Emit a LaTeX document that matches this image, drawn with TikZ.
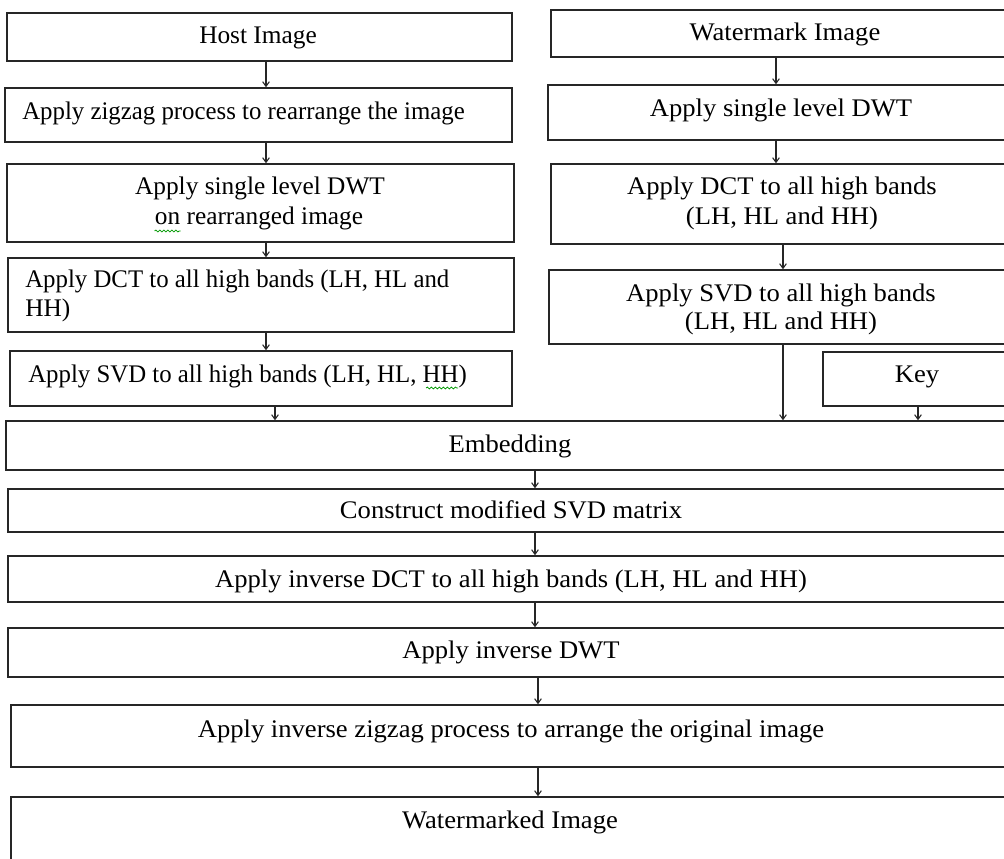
\documentclass[tikz,border=0pt]{standalone}
\usepackage{graphicx}
\usepackage{fontspec}
\setmainfont{Liberation Serif}
\usetikzlibrary{arrows.meta,fit,decorations.pathmorphing}
\newcommand{\wxs}[1]{\scalebox{1.05}[1]{#1}}
\newcommand{\nxs}[1]{\scalebox{0.98}[1]{#1}}
\begin{document}
\begin{tikzpicture}[x=0.75pt,y=-0.75pt,
  box/.style={draw=black!85,line width=1.1pt,inner sep=0pt,fit={#1}},
  lbl/.style={font=\fontsize{19pt}{22pt}\selectfont,inner sep=0pt,anchor=base},
  lbll/.style={lbl,anchor=base west},
  arr/.style={draw=black!85,line width=0.8pt,-{Straight Barb[length=3.5pt,width=5pt]}},
  squig/.style={draw=green!60!black,line width=0.6pt,decorate,decoration={snake,amplitude=0.7pt,segment length=3pt}}]
\useasboundingbox (0,0) rectangle (1004,859);
\clip (0,0) rectangle (1004,859);
\fill[white] (0,0) rectangle (1004,859);
% boxes
\node[box={(7,13) (512,61)}] (host) {};
\node[box={(5,88) (512,142)}] (zig) {};
\node[box={(7,164) (514,242)}] (hdwt) {};
\node[box={(8,258) (514,332)}] (hdct) {};
\node[box={(10,351) (512,406)}] (hsvd) {};
\node[box={(551,10) (1012,57)}] (wm) {};
\node[box={(548,85) (1012,140)}] (wdwt) {};
\node[box={(551,164) (1012,244)}] (wdct) {};
\node[box={(549,270) (1012,344)}] (wsvd) {};
\node[box={(823,352) (1012,406)}] (key) {};
\node[box={(6,421) (1016,470)}] (emb) {};
\node[box={(8,489) (1016,532)}] (cons) {};
\node[box={(8,556) (1016,602)}] (idct) {};
\node[box={(8,628) (1016,677)}] (idwt) {};
\node[box={(11,705) (1016,767)}] (izig) {};
\node[box={(11,797) (1016,880)}] (out) {};
% texts
\node[lbl] (t1) at (258,44) {Host Image};
\node[lbll] (t2) at (22,120) {\nxs{Apply zigzag process to rearrange the image}};
\node[lbl] (t3a) at (260,195) {Apply single level DWT};
\node[lbl] (t3b) at (259,225) {on rearranged image};
\node[lbll] (t4a) at (25,288) {\nxs{Apply DCT to all high bands (LH, HL and}};
\node[lbll] (t4b) at (25,317) {HH)};
\node[lbll] (t5) at (28,383) {\nxs{Apply SVD to all high bands (LH, HL, HH)}};
\node[lbl] (w1) at (785,41) {\wxs{Watermark Image}};
\node[lbl] (w2) at (781,117) {\wxs{Apply single level DWT}};
\node[lbl] (w3a) at (782,195) {\wxs{Apply DCT to all high bands}};
\node[lbl] (w3b) at (782,225) {\wxs{(LH, HL and HH)}};
\node[lbl] (w4a) at (781,302) {\wxs{Apply SVD to all high bands}};
\node[lbl] (w4b) at (781,330) {\wxs{(LH, HL and HH)}};
\node[lbl] (k1) at (917,383) {\wxs{Key}};
\node[lbl] (e1) at (510,453) {\wxs{Embedding}};
\node[lbl] (c1) at (511,518) {\wxs{Construct modified SVD matrix}};
\node[lbl] (d1) at (511,587) {\wxs{Apply inverse DCT to all high bands (LH, HL and HH)}};
\node[lbl] (d2) at (511,658) {\wxs{Apply inverse DWT}};
\node[lbl] (z1) at (511,737) {\wxs{Apply inverse zigzag process to arrange the original image}};
\node[lbl] (o1) at (510,828) {\wxs{Watermarked Image}};
% spell-check marks
\draw[squig] ([shift={(0,6)}]t3b.base west) -- ([shift={(26,6)}]t3b.base west);
\draw[squig] ([shift={(-41,5)}]t5.base east) -- ([shift={(-9,5)}]t5.base east);
% connector x positions
\coordinate (xa) at (266,0);
\coordinate (xb) at (275,0);
\coordinate (xc) at (776,0);
\coordinate (xd) at (783,0);
\coordinate (xe) at (918,0);
\coordinate (xf) at (535,0);
\coordinate (xg) at (538,0);
% connectors
\draw[arr] (host.south -| xa) -- (zig.north -| xa);
\draw[arr] (zig.south -| xa) -- (hdwt.north -| xa);
\draw[arr] (hdwt.south -| xa) -- (hdct.north -| xa);
\draw[arr] (hdct.south -| xa) -- (hsvd.north -| xa);
\draw[arr] (hsvd.south -| xb) -- (emb.north -| xb);
\draw[arr] (wm.south -| xc) -- (wdwt.north -| xc);
\draw[arr] (wdwt.south -| xc) -- (wdct.north -| xc);
\draw[arr] (wdct.south -| xd) -- (wsvd.north -| xd);
\draw[arr] (wsvd.south -| xd) -- (emb.north -| xd);
\draw[arr] (key.south -| xe) -- (emb.north -| xe);
\draw[arr] (emb.south -| xf) -- (cons.north -| xf);
\draw[arr] (cons.south -| xf) -- (idct.north -| xf);
\draw[arr] (idct.south -| xf) -- (idwt.north -| xf);
\draw[arr] (idwt.south -| xg) -- (izig.north -| xg);
\draw[arr] (izig.south -| xg) -- (out.north -| xg);
\end{tikzpicture}
\end{document}
